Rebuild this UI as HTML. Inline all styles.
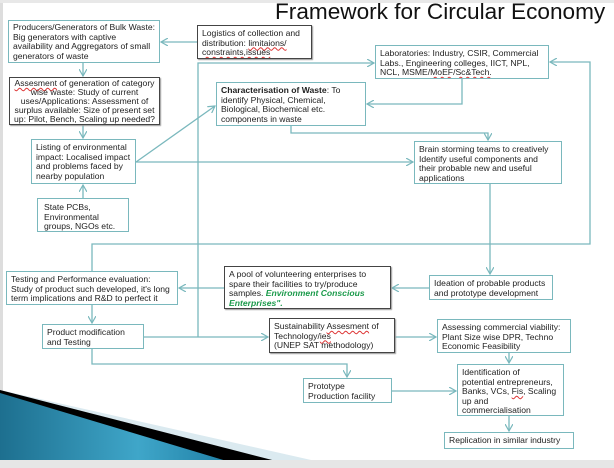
<!DOCTYPE html>
<html><head><meta charset="utf-8"><style>
body{margin:0;width:614px;height:468px;background:#fff;position:relative;overflow:hidden;font-family:"Liberation Sans",sans-serif;}
.b{position:absolute;box-sizing:border-box;border:1.3px solid #7ab8bd;background:#fff;font-size:8.6px;line-height:9.5px;color:#222;padding:2px 4px;white-space:nowrap;overflow:hidden;}
.d{border:1.5px solid #444;box-shadow:1px 1px 1px #999;}
.u{text-decoration:underline wavy #d33;text-decoration-thickness:0.5px;}
</style></head><body>
<div style="position:absolute;left:0;top:0;width:3px;height:468px;background:#ddd"></div>
<div style="position:absolute;left:0;top:0;width:614px;height:3px;background:#e8e8e8"></div>
<svg width="614" height="468" style="position:absolute;left:0;top:0">
<defs>
<linearGradient id="g" x1="0" y1="0" x2="1" y2="0"><stop offset="0" stop-color="#1d6f8f"/><stop offset="0.6" stop-color="#3fa6c9"/><stop offset="1" stop-color="#1f7fa5"/></linearGradient>
<marker id="a" markerWidth="8" markerHeight="8" refX="7" refY="4" orient="auto" markerUnits="userSpaceOnUse"><path d="M0,0 L7,4 L0,8" fill="none" stroke="#7ab8bd" stroke-width="1.2"/></marker>
</defs>
<polygon points="0,390 320,462 0,462" fill="#dbeaf0"/>
<polygon points="0,390 280,462 0,462" fill="#000"/>
<polygon points="0,393 230,462 0,462" fill="url(#g)"/>
<rect x="0" y="460" width="614" height="8" fill="#e6e6e6"/>
<g stroke="#7ab8bd" stroke-width="1.3" fill="none">
<line x1="197" y1="42" x2="161" y2="42" marker-end="url(#a)"/>
<line x1="83" y1="63" x2="83" y2="76" marker-end="url(#a)"/>
<line x1="83" y1="125" x2="83" y2="138" marker-end="url(#a)"/>
<line x1="83" y1="198" x2="83" y2="185" marker-end="url(#a)"/>
<line x1="136" y1="162" x2="215" y2="106" marker-end="url(#a)"/>
<line x1="136" y1="162" x2="413" y2="162" marker-end="url(#a)"/>
<polyline points="198,337 198,63 374,63" marker-end="url(#a)"/>
<polyline points="462,79 462,104 367,104" marker-end="url(#a)"/>
<polyline points="291,126 291,133 488,133 488,140" marker-end="url(#a)"/>
<polyline points="92,271 92,244 590,244 590,62 550,62" marker-end="url(#a)"/>
<line x1="490" y1="184" x2="490" y2="274" marker-end="url(#a)"/>
<line x1="429" y1="288" x2="392" y2="288" marker-end="url(#a)"/>
<line x1="224" y1="288" x2="179" y2="288" marker-end="url(#a)"/>
<line x1="92" y1="304" x2="92" y2="323" marker-end="url(#a)"/>
<line x1="144" y1="337" x2="268" y2="337" marker-end="url(#a)"/>
<line x1="395" y1="337" x2="436" y2="337" marker-end="url(#a)"/>
<polyline points="92,349 92,364 347,364 347,377" marker-end="url(#a)"/>
<line x1="392" y1="391" x2="456" y2="391" marker-end="url(#a)"/>
<line x1="509" y1="353" x2="509" y2="363" marker-end="url(#a)"/>
<line x1="509" y1="416" x2="509" y2="431" marker-end="url(#a)"/>
</g>
</svg>
<div style="position:absolute;left:275px;top:-1px;font-size:22.6px;color:#111;white-space:nowrap">Framework for Circular Economy</div>
<div class="b" style="left:8px;top:20px;width:152px;height:43px">Producers/Generators of Bulk Waste:<br>Big generators with captive<br>availability and Aggregators of small<br>generators of waste</div>
<div class="b d" style="left:197px;top:25px;width:115px;height:34px;padding-top:3px">Logistics of collection and<br>distribution: <span class="u">limitaions/</span><br><span class="u">constraints,issues</span></div>
<div class="b d" style="left:9px;top:77px;width:151px;height:48px;text-align:center;padding:1px 2px;line-height:8.9px"><span class="u">Assesment</span> of generation of category<br>wise waste: Study of current<br>uses/Applications: Assessment of<br>surplus available: Size of present set<br>up: Pilot, Bench, Scaling up needed?</div>
<div class="b" style="left:31px;top:139px;width:105px;height:45px;padding-top:3px">Listing of environmental<br>impact: Localised impact<br>and problems faced by<br>nearby population</div>
<div class="b" style="left:37px;top:198px;width:92px;height:34px;padding:4px 6px">State PCBs,<br>Environmental<br>groups, NGOs etc.</div>
<div class="b" style="left:216px;top:82px;width:150px;height:44px;padding-top:3px"><b>Characterisation of Waste</b>: To<br>identify Physical, Chemical,<br>Biological, Biochemical etc.<br>components in waste</div>
<div class="b" style="left:375px;top:45px;width:174px;height:34px;padding-top:3px">Laboratories: Industry, CSIR, Commercial<br>Labs., Engineering colleges, IICT, NPL,<br>NCL, MSME/<span class="u">MoEF</span>/<span class="u">Sc&amp;Tech.</span></div>
<div class="b" style="left:414px;top:141px;width:148px;height:43px;padding-top:3px">Brain storming teams to creatively<br>Identify useful components and<br>their probable new and useful<br>applications</div>
<div class="b" style="left:6px;top:271px;width:172px;height:34px;padding-top:3px">Testing and Performance evaluation:<br>Study of product such developed, it's long<br>term implications and R&amp;D to perfect it</div>
<div class="b d" style="left:224px;top:266px;width:167px;height:43px;padding-top:3px">A pool of volunteering enterprises to<br>spare their facilities to try/produce<br>samples. <b><i style="color:#1a9a4a">Environment Conscious<br>Enterprises".</i></b></div>
<div class="b" style="left:429px;top:275px;width:124px;height:25px;padding-top:3px">Ideation of probable products<br>and prototype development</div>
<div class="b" style="left:42px;top:324px;width:102px;height:25px;padding-top:3px">Product modification<br>and Testing</div>
<div class="b d" style="left:269px;top:318px;width:126px;height:35px;padding-top:3px">Sustainability <span class="u">Assesment</span> of<br>Technology/<span class="u">ies</span><br>(UNEP SAT methodology)</div>
<div class="b" style="left:437px;top:319px;width:134px;height:34px;padding-top:3px">Assessing commercial viability:<br>Plant Size wise DPR, Techno<br>Economic Feasibility</div>
<div class="b" style="left:303px;top:378px;width:89px;height:25px;padding-top:3px">Prototype<br>Production facility</div>
<div class="b" style="left:457px;top:364px;width:107px;height:52px;padding-top:3px">Identification of<br>potential entrepreneurs,<br>Banks, VCs, <span class="u">Fis</span>, Scaling<br>up and<br>commercialisation</div>
<div class="b" style="left:444px;top:432px;width:130px;height:17px;padding-top:3px">Replication in similar industry</div>
</body></html>
